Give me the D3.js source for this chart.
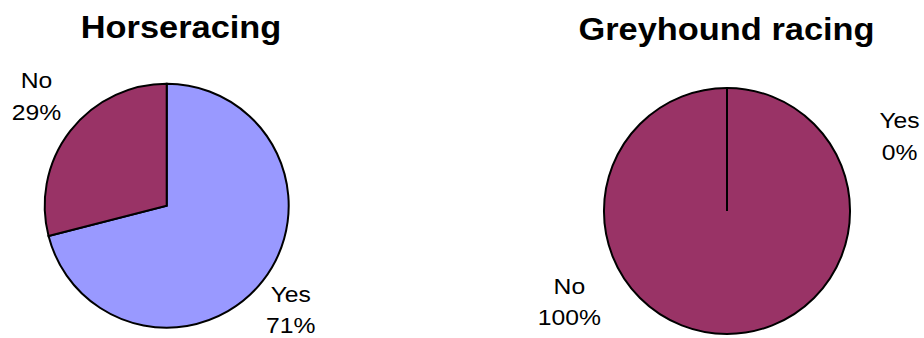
<!DOCTYPE html>
<html>
<head>
<meta charset="utf-8">
<script src="https://cdn.jsdelivr.net/npm/d3@7"></script>
<style>
  html, body { margin: 0; padding: 0; background: #fff; }
  svg { display: block; }
  text { font-family: "Liberation Sans", Arial, Helvetica, sans-serif; fill: #000; }
</style>
</head>
<body>
<svg id="chart" width="924" height="338"></svg>
<script>
// Survey answers, in percent
const categories = ["Yes", "No"];
const horseracing = [71, 29];
const greyhound = [0, 100];
const titles = ["Horseracing", "Greyhound racing"];

const colors = d3.scaleOrdinal().domain(categories).range(["#9999FF", "#993366"]);

// Placement of each pie and its labels (label angle in degrees, clockwise from 12 o'clock)
const layout = [
  { cx: 166.7, cy: 205.7, r: 122, titleX: 181, titleY: 37.5,
    labelR: [162, 170], labelAngle: [130, 310] },
  { cx: 727, cy: 211, r: 123, titleX: 726.5, titleY: 39.5,
    labelR: [188, 182], labelAngle: [66.6, 240] }
];
const series = [horseracing, greyhound];

const svg = d3.select("#chart");
const stretch = 1.075;

const pie = d3.pie().sort(null).value(d => d.value);

series.forEach((vals, i) => {
  const L = layout[i];
  const data = categories.map((c, j) => ({ cat: c, value: vals[j] }));
  const arcs = pie(data);
  const arc = d3.arc().innerRadius(0).outerRadius(L.r);

  const g = svg.append("g").attr("transform", `translate(${L.cx},${L.cy})`);

  // Draw the full slices first, then zero-width ones so their edge line stays visible
  const ordered = arcs.slice().sort((a, b) => (b.endAngle - b.startAngle) - (a.endAngle - a.startAngle));
  g.selectAll("path.slice")
    .data(ordered)
    .join("path")
    .attr("class", "slice")
    .attr("d", arc)
    .attr("fill", d => colors(d.data.cat))
    .attr("stroke", "#000")
    .attr("stroke-width", 2)
    .attr("stroke-linejoin", "miter");

  // Title
  svg.append("text")
    .attr("transform", `translate(${L.titleX},${L.titleY}) scale(${stretch},1)`)
    .attr("text-anchor", "middle")
    .attr("font-size", 32)
    .attr("font-weight", "bold")
    .text(titles[i]);

  // Category labels with percentages
  arcs.forEach((a, j) => {
    const ang = L.labelAngle[j] * Math.PI / 180;
    const lx = L.cx + Math.sin(ang) * L.labelR[j];
    const ly = L.cy - Math.cos(ang) * L.labelR[j];
    const t = svg.append("text")
      .attr("transform", `translate(${lx},${ly - 8}) scale(${stretch},1)`)
      .attr("text-anchor", "middle")
      .attr("font-size", 23);
    t.append("tspan").attr("x", 0).attr("y", 0).text(a.data.cat);
    t.append("tspan").attr("x", 0).attr("y", 31.5).text(a.data.value + "%");
  });
});
</script>
</body>
</html>
